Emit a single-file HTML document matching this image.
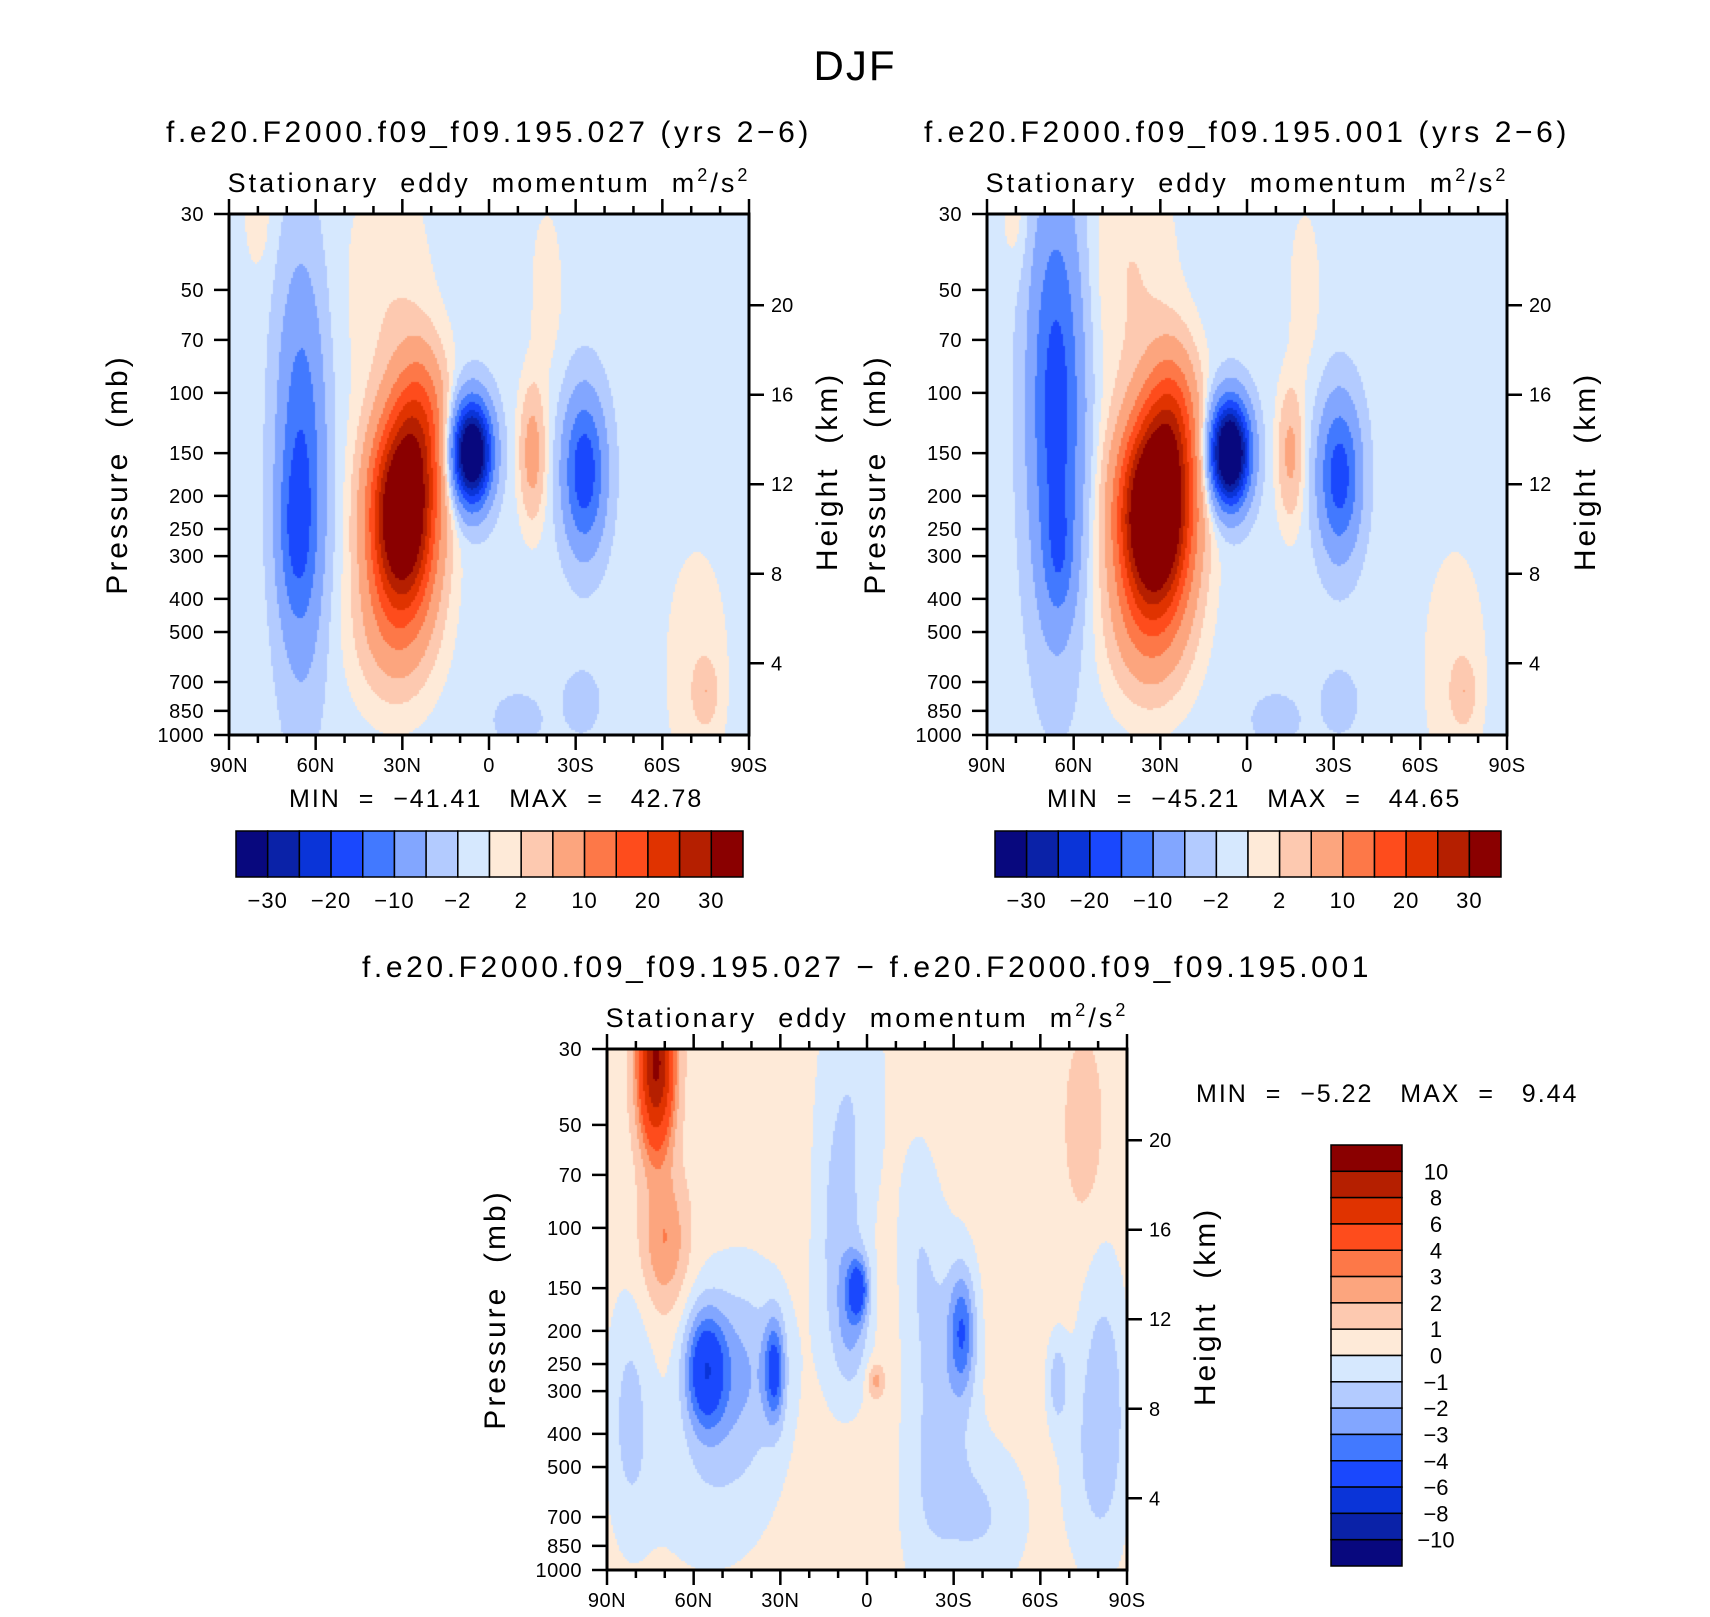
<!DOCTYPE html>
<html><head><meta charset="utf-8">
<style>
html,body{margin:0;padding:0;background:#fff;}
#wrap{position:relative;width:1710px;height:1617px;overflow:hidden;background:#fff;}
canvas{position:absolute;}
svg{position:absolute;left:0;top:0;}
text{font-family:"Liberation Sans","DejaVu Sans",sans-serif;fill:#000;white-space:pre;}
</style></head>
<body>
<div id="wrap">
<canvas id="c1" style="left:229px;top:214px" width="520" height="521"></canvas>
<canvas id="c2" style="left:987px;top:214px" width="521" height="521"></canvas>
<canvas id="c3" style="left:607px;top:1049px" width="521" height="521"></canvas>
<svg id="svg" width="1710" height="1617"></svg>
</div>
<script>
// ---- data ----
const latTicks = ["90N","60N","30N","0","30S","60S","90S"];
const presTicks = [30,50,70,100,150,200,250,300,400,500,700,850,1000];
const kmTicks = [4,8,12,16,20];
const levelsFull = [-30,-25,-20,-15,-10,-5,-2,0,2,5,10,15,20,25,30];
const levelsFullLabels = ["−30","−20","−10","−2","2","10","20","30"];
const levelsDiff = [-10,-8,-6,-4,-3,-2,-1,0,1,2,3,4,6,8,10];
const levelsDiffLabels = ["10","8","6","4","3","2","1","0","−1","−2","−3","−4","−6","−8","−10"];
const colors = ["#08087e","#0a22a8","#0a34d8","#1a48fd","#4279ff","#82a6ff","#b3cbff","#d6e8fe","#feead8","#fdc9b0","#fca57e","#fd7848","#fe4c1c","#e03300","#b51f00","#8a0000"];
// field blobs: [lat(deg, +N), pressure(mb), amplitude, lat-width(deg), logp-width]
const base1 = -1;
const blobs1 = [[65,170,-14,8,1.25],[67,260,-6,6,0.5],[30,230,44,11,0.62],[24,120,14,9,0.5],[33,500,6,14,0.5],[35,50,2.5,15,0.9],[80,30,2.2,5,0.4],
 [6,150,-42,6.5,0.33],[-15,150,8,4.5,0.45],[-33,170,-18,7,0.5],[-72,650,2.2,12,0.9],[-20,50,2,6,0.6],[-10,900,-2,10,0.2],[-32,800,-3,6,0.2],[-75,750,4,4,0.2]];
const base2 = -1;
const blobs2 = [[66,110,-17,9,1.35],[65,300,-6,5,0.4],[32,230,50,12,0.62],[26,120,15,9,0.5],[34,500,7,14,0.5],[40,45,3,15,0.9],[80,30,2.2,5,0.4],
 [6,150,-45,6.5,0.33],[-15,150,7,4.5,0.45],[-32,175,-17,7,0.5],[-72,650,2.2,12,0.9],[-20,50,2,6,0.6],[-10,900,-2,10,0.2],[-32,800,-3,6,0.2],[-75,750,4,4,0.2]];
const base3 = 0.5;
const blobs3 = [[73,33,10,6,0.55],[70,110,2.5,8,0.45],[56,260,-5,7,0.4],[32,260,-4,3.5,0.35],[44,260,-2.5,16,0.65],
 [3,150,-4,3.5,0.2],[5,190,-2,6,0.45],[10,120,-1.6,8,0.9],[-33,200,-3.5,4.5,0.4],[-28,260,-1.6,10,0.9],
 [-66,280,-2,3.5,0.3],[-82,300,-1.8,8,0.9],[82,350,-1.8,8,0.8],[-3,280,2,3,0.12],[-75,50,1.5,6,0.55],[-40,700,-1.5,15,0.5],[-18,120,-1.2,7,0.8],
 [5,40,-1.2,12,1.0],[55,600,-1.0,22,0.6],[-78,500,-1.0,12,0.8],[-20,600,-1.0,10,0.8]];
const stats1 = ["−41.41","42.78"];
const stats2 = ["−45.21","44.65"];
const stats3 = ["−5.22","9.44"];

// ---- geometry ----
const PW = 520, PH = 521;
const panels = [
 {x:229,y:214,c:"c1",blobs:blobs1,base:base1,lev:levelsFull,title:"f.e20.F2000.f09_f09.195.027 (yrs 2−6)",stats:stats1,name:"panel-027"},
 {x:987,y:214,c:"c2",blobs:blobs2,base:base2,lev:levelsFull,title:"f.e20.F2000.f09_f09.195.001 (yrs 2−6)",stats:stats2,name:"panel-001"},
 {x:607,y:1049,c:"c3",blobs:blobs3,base:base3,lev:levelsDiff,title:"f.e20.F2000.f09_f09.195.027 − f.e20.F2000.f09_f09.195.001",stats:stats3,name:"panel-diff"}
];
const L30 = Math.log(30), LR = Math.log(1000/30);
function yP(p){return (Math.log(p)-L30)/LR*PH;}
function xL(lat){return (90-lat)/180*PW;}
function pY(y){return Math.exp(L30 + y/PH*LR);}
function latX(x){return 90 - x/PW*180;}
function fieldVal(blobs, base, lat, p){
  let v = base; const lp = Math.log(p);
  for(const b of blobs){
    const dx=(lat-b[0])/b[3], dy=(lp-Math.log(b[1]))/b[4];
    v += b[2]*Math.exp(-dx*dx-dy*dy);
  }
  return v;
}
function colorIdx(lev,v){let i=0;while(i<lev.length && v>=lev[i]) i++;return i;}

for(const pn of panels){
  const cv=document.getElementById(pn.c), ctx=cv.getContext('2d');
  const cs=2;
  for(let y=0;y<PH;y+=cs){
    const p=pY(y+cs/2);
    for(let x=0;x<PW;x+=cs){
      const v=fieldVal(pn.blobs,pn.base,latX(x+cs/2),p);
      ctx.fillStyle=colors[colorIdx(pn.lev,v)];
      ctx.fillRect(x,y,cs,cs);
    }
  }
}

const NS="http://www.w3.org/2000/svg";
const svg=document.getElementById('svg');
function el(tag,attrs,parent){const e=document.createElementNS(NS,tag);for(const k in attrs)e.setAttribute(k,attrs[k]);(parent||svg).appendChild(e);return e;}
function txt(s,x,y,size,anchor,parent){const t=el('text',{x:x,y:y,'font-size':size,'text-anchor':anchor||'middle'},parent);t.textContent=s;return t;}

const ft=txt("DJF",855,80,42);
ft.setAttribute('letter-spacing','2');



for(const pn of panels){
  const g=el('g',{});
  
  
  const X=pn.x,Y=pn.y;
  const t1=txt(pn.title,X+PW/2,Y-72,30,'middle',g);
  t1.setAttribute('letter-spacing','3.6');
  
  
  const t2=el('text',{x:X+PW/2,y:Y-22,'font-size':27,'text-anchor':'middle','letter-spacing':'3'},g);
  t2.innerHTML='Stationary  eddy  momentum  m<tspan dy="-11" font-size="18">2</tspan><tspan dy="11">/s</tspan><tspan dy="-11" font-size="18">2</tspan>';
  
  
  const fr=el('rect',{x:X,y:Y,width:PW,height:PH,fill:'none',stroke:'#000','stroke-width':3},g);
  
  
  for(let lat=90;lat>=-90;lat-=10){
    const x=X+xL(lat); const major=(lat%30===0);
    const len=major?15:8;
    el('line',{x1:x,y1:Y,x2:x,y2:Y-len,stroke:'#000','stroke-width':2.5},g);
    el('line',{x1:x,y1:Y+PH,x2:x,y2:Y+PH+len,stroke:'#000','stroke-width':2.5},g);
  }
  latTicks.forEach((s,i)=>{
    const lat=90-30*i;
    const t=txt(s,X+xL(lat),Y+PH+37,20,'middle',g);
    t.setAttribute('letter-spacing','0.5');
    
    
  });
  presTicks.forEach(p=>{
    const y=Y+yP(p);
    el('line',{x1:X,y1:y,x2:X-15,y2:y,stroke:'#000','stroke-width':2.5},g);
    const t=txt(String(p),X-25,y+7,20,'end',g);
    t.setAttribute('letter-spacing','0.5');
    
    
  });
  kmTicks.forEach(k=>{
    const p=1127*Math.exp(-k/6.64);
    const y=Y+yP(p);
    el('line',{x1:X+PW,y1:y,x2:X+PW+15,y2:y,stroke:'#000','stroke-width':2.5},g);
    const t=txt(String(k),X+PW+22,y+7,20,'start',g);
    
    
  });
  const yt=txt("Pressure  (mb)",0,0,30,'middle',g);
  yt.setAttribute('transform',`translate(${X-102},${Y+PH/2}) rotate(-90)`);
  yt.setAttribute('letter-spacing','3');
  
  
  const rt=txt("Height  (km)",0,0,30,'middle',g);
  rt.setAttribute('transform',`translate(${X+PW+88},${Y+PH/2-3}) rotate(-90)`);
  rt.setAttribute('letter-spacing','3');
  
  
}

function stats(s,x,y,name){
  const t=el('text',{x:x,y:y,'font-size':25,'text-anchor':'start','letter-spacing':'2'});
  t.textContent=`MIN  =  ${s[0]}   MAX  =   ${s[1]}`;
  
  
}
stats(stats1,289,807,'stats-panel-027');
stats(stats2,1047,807,'stats-panel-001');
stats(stats3,1196,1102,'stats-panel-diff');

function hbar(x0,x1,y0,y1,name){
  const g=el('g',{});
  
  
  const w=(x1-x0)/colors.length;
  colors.forEach((c,i)=>{
    const r=el('rect',{x:x0+i*w,y:y0,width:w,height:y1-y0,fill:c,stroke:'#000','stroke-width':1.5},g);
    
    
  });
  levelsFullLabels.forEach((s,j)=>{
    const k=2*j;
    const t=txt(s,x0+(k+1)*w,y1+31,22,'middle',g);
    t.setAttribute('letter-spacing','1');
    
    
  });
}
hbar(236,743,831,877,'colorbar-panel-027');
hbar(995,1501,831,877,'colorbar-panel-001');
(function(){
  const g=el('g',{});
  
  
  const x0=1331,x1=1402,y0=1145,y1=1566,h=(y1-y0)/colors.length;
  colors.slice().reverse().forEach((c,i)=>{
    const r=el('rect',{x:x0,y:y0+i*h,width:x1-x0,height:h,fill:c,stroke:'#000','stroke-width':1.5},g);
    
    
  });
  levelsDiffLabels.forEach((s,k)=>{
    const t=txt(s,1436,y0+(k+1)*h+8,22,'middle',g);
    
    
  });
})();
</script>
</body></html>
